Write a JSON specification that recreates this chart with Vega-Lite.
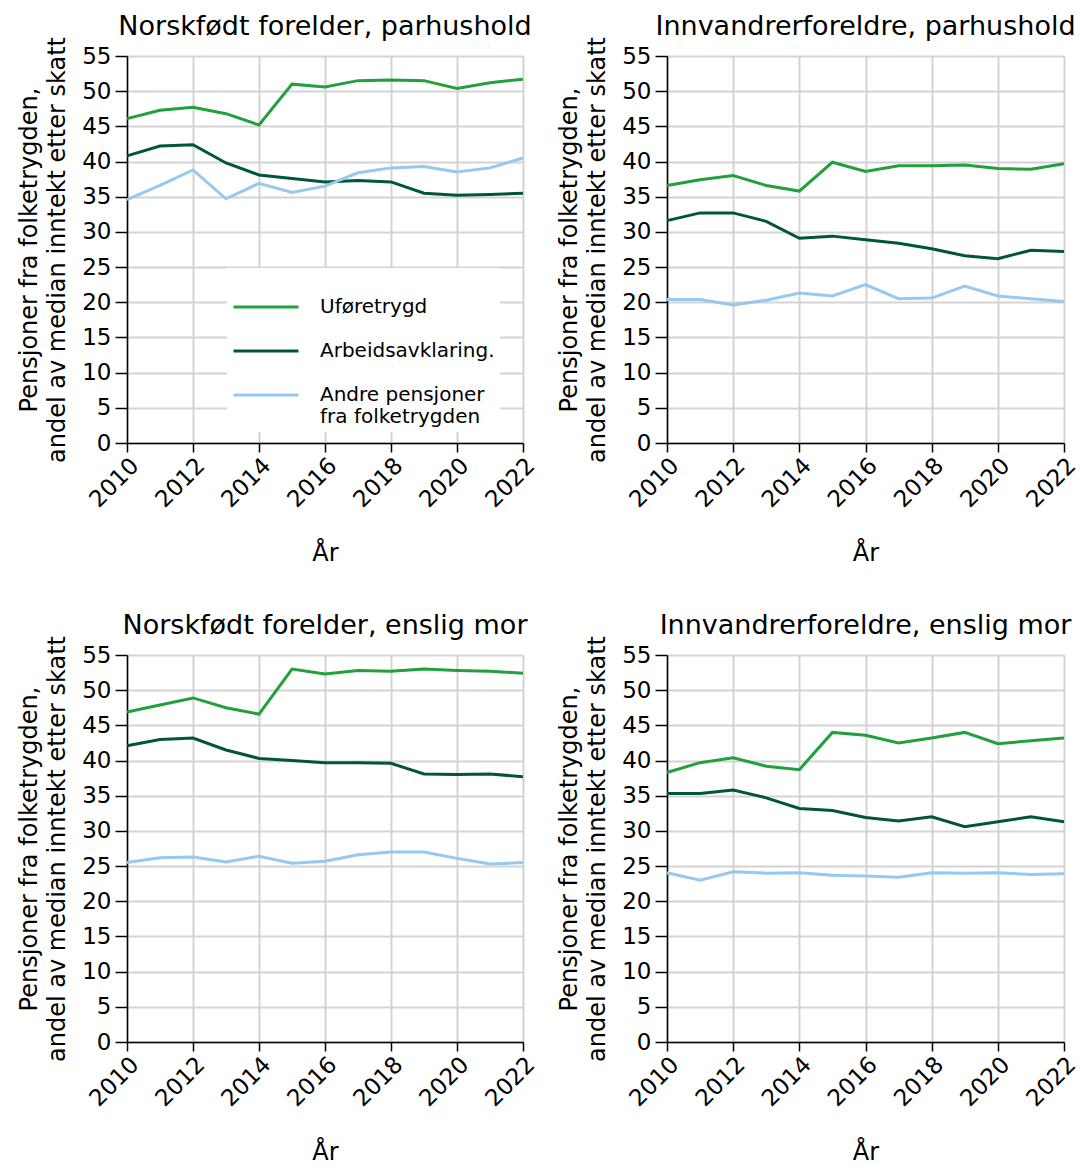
{
  "$schema": "https://vega.github.io/schema/vega-lite/v6.json",
  "padding": {"left": 17, "top": 12, "right": 2, "bottom": 0},
  "config": {
    "font": "DejaVu Sans",
    "view": {"stroke": null},
    "title": {"fontSize": 27, "fontWeight": "normal", "anchor": "middle", "offset": -4, "color": "#000000"},
    "axis": {
      "labelFontSize": 23, "titleFontSize": 24, "titleFontWeight": "normal",
      "labelColor": "#000000", "titleColor": "#000000",
      "domainColor": "#000000", "domainWidth": 1.5, "tickColor": "#000000", "tickWidth": 1.5,
      "gridColor": "#d3d3d3", "gridWidth": 2
    },
    "legend": {"labelFontSize": 20, "labelColor": "#000000"}
  },
  "spacing": {"row": 45, "column": 17},
  "data": {"values": [
    {"panel": "NP", "year": 2010, "type": "Uføretrygd", "value": 46.1},
    {"panel": "NP", "year": 2011, "type": "Uføretrygd", "value": 47.3},
    {"panel": "NP", "year": 2012, "type": "Uføretrygd", "value": 47.7},
    {"panel": "NP", "year": 2013, "type": "Uføretrygd", "value": 46.8},
    {"panel": "NP", "year": 2014, "type": "Uføretrygd", "value": 45.2},
    {"panel": "NP", "year": 2015, "type": "Uføretrygd", "value": 51.0},
    {"panel": "NP", "year": 2016, "type": "Uføretrygd", "value": 50.6},
    {"panel": "NP", "year": 2017, "type": "Uføretrygd", "value": 51.5},
    {"panel": "NP", "year": 2018, "type": "Uføretrygd", "value": 51.6},
    {"panel": "NP", "year": 2019, "type": "Uføretrygd", "value": 51.5},
    {"panel": "NP", "year": 2020, "type": "Uføretrygd", "value": 50.4},
    {"panel": "NP", "year": 2021, "type": "Uføretrygd", "value": 51.2},
    {"panel": "NP", "year": 2022, "type": "Uføretrygd", "value": 51.7},
    {"panel": "NP", "year": 2010, "type": "Arbeidsavklaring.", "value": 40.8},
    {"panel": "NP", "year": 2011, "type": "Arbeidsavklaring.", "value": 42.2},
    {"panel": "NP", "year": 2012, "type": "Arbeidsavklaring.", "value": 42.4},
    {"panel": "NP", "year": 2013, "type": "Arbeidsavklaring.", "value": 39.8},
    {"panel": "NP", "year": 2014, "type": "Arbeidsavklaring.", "value": 38.1},
    {"panel": "NP", "year": 2015, "type": "Arbeidsavklaring.", "value": 37.6},
    {"panel": "NP", "year": 2016, "type": "Arbeidsavklaring.", "value": 37.1},
    {"panel": "NP", "year": 2017, "type": "Arbeidsavklaring.", "value": 37.3},
    {"panel": "NP", "year": 2018, "type": "Arbeidsavklaring.", "value": 37.1},
    {"panel": "NP", "year": 2019, "type": "Arbeidsavklaring.", "value": 35.5},
    {"panel": "NP", "year": 2020, "type": "Arbeidsavklaring.", "value": 35.2},
    {"panel": "NP", "year": 2021, "type": "Arbeidsavklaring.", "value": 35.3},
    {"panel": "NP", "year": 2022, "type": "Arbeidsavklaring.", "value": 35.5},
    {"panel": "NP", "year": 2010, "type": "Andre pensjoner fra folketrygden", "value": 34.6},
    {"panel": "NP", "year": 2011, "type": "Andre pensjoner fra folketrygden", "value": 36.6},
    {"panel": "NP", "year": 2012, "type": "Andre pensjoner fra folketrygden", "value": 38.8},
    {"panel": "NP", "year": 2013, "type": "Andre pensjoner fra folketrygden", "value": 34.7},
    {"panel": "NP", "year": 2014, "type": "Andre pensjoner fra folketrygden", "value": 36.9},
    {"panel": "NP", "year": 2015, "type": "Andre pensjoner fra folketrygden", "value": 35.6},
    {"panel": "NP", "year": 2016, "type": "Andre pensjoner fra folketrygden", "value": 36.5},
    {"panel": "NP", "year": 2017, "type": "Andre pensjoner fra folketrygden", "value": 38.4},
    {"panel": "NP", "year": 2018, "type": "Andre pensjoner fra folketrygden", "value": 39.1},
    {"panel": "NP", "year": 2019, "type": "Andre pensjoner fra folketrygden", "value": 39.3},
    {"panel": "NP", "year": 2020, "type": "Andre pensjoner fra folketrygden", "value": 38.5},
    {"panel": "NP", "year": 2021, "type": "Andre pensjoner fra folketrygden", "value": 39.1},
    {"panel": "NP", "year": 2022, "type": "Andre pensjoner fra folketrygden", "value": 40.5},

    {"panel": "IP", "year": 2010, "type": "Uføretrygd", "value": 36.6},
    {"panel": "IP", "year": 2011, "type": "Uføretrygd", "value": 37.4},
    {"panel": "IP", "year": 2012, "type": "Uføretrygd", "value": 38.0},
    {"panel": "IP", "year": 2013, "type": "Uføretrygd", "value": 36.6},
    {"panel": "IP", "year": 2014, "type": "Uføretrygd", "value": 35.8},
    {"panel": "IP", "year": 2015, "type": "Uføretrygd", "value": 39.9},
    {"panel": "IP", "year": 2016, "type": "Uføretrygd", "value": 38.6},
    {"panel": "IP", "year": 2017, "type": "Uføretrygd", "value": 39.4},
    {"panel": "IP", "year": 2018, "type": "Uføretrygd", "value": 39.4},
    {"panel": "IP", "year": 2019, "type": "Uføretrygd", "value": 39.5},
    {"panel": "IP", "year": 2020, "type": "Uføretrygd", "value": 39.0},
    {"panel": "IP", "year": 2021, "type": "Uføretrygd", "value": 38.9},
    {"panel": "IP", "year": 2022, "type": "Uføretrygd", "value": 39.7},
    {"panel": "IP", "year": 2010, "type": "Arbeidsavklaring.", "value": 31.6},
    {"panel": "IP", "year": 2011, "type": "Arbeidsavklaring.", "value": 32.7},
    {"panel": "IP", "year": 2012, "type": "Arbeidsavklaring.", "value": 32.7},
    {"panel": "IP", "year": 2013, "type": "Arbeidsavklaring.", "value": 31.5},
    {"panel": "IP", "year": 2014, "type": "Arbeidsavklaring.", "value": 29.1},
    {"panel": "IP", "year": 2015, "type": "Arbeidsavklaring.", "value": 29.4},
    {"panel": "IP", "year": 2016, "type": "Arbeidsavklaring.", "value": 28.9},
    {"panel": "IP", "year": 2017, "type": "Arbeidsavklaring.", "value": 28.4},
    {"panel": "IP", "year": 2018, "type": "Arbeidsavklaring.", "value": 27.6},
    {"panel": "IP", "year": 2019, "type": "Arbeidsavklaring.", "value": 26.6},
    {"panel": "IP", "year": 2020, "type": "Arbeidsavklaring.", "value": 26.2},
    {"panel": "IP", "year": 2021, "type": "Arbeidsavklaring.", "value": 27.4},
    {"panel": "IP", "year": 2022, "type": "Arbeidsavklaring.", "value": 27.2},
    {"panel": "IP", "year": 2010, "type": "Andre pensjoner fra folketrygden", "value": 20.4},
    {"panel": "IP", "year": 2011, "type": "Andre pensjoner fra folketrygden", "value": 20.4},
    {"panel": "IP", "year": 2012, "type": "Andre pensjoner fra folketrygden", "value": 19.6},
    {"panel": "IP", "year": 2013, "type": "Andre pensjoner fra folketrygden", "value": 20.3},
    {"panel": "IP", "year": 2014, "type": "Andre pensjoner fra folketrygden", "value": 21.3},
    {"panel": "IP", "year": 2015, "type": "Andre pensjoner fra folketrygden", "value": 20.9},
    {"panel": "IP", "year": 2016, "type": "Andre pensjoner fra folketrygden", "value": 22.5},
    {"panel": "IP", "year": 2017, "type": "Andre pensjoner fra folketrygden", "value": 20.5},
    {"panel": "IP", "year": 2018, "type": "Andre pensjoner fra folketrygden", "value": 20.6},
    {"panel": "IP", "year": 2019, "type": "Andre pensjoner fra folketrygden", "value": 22.3},
    {"panel": "IP", "year": 2020, "type": "Andre pensjoner fra folketrygden", "value": 20.9},
    {"panel": "IP", "year": 2021, "type": "Andre pensjoner fra folketrygden", "value": 20.5},
    {"panel": "IP", "year": 2022, "type": "Andre pensjoner fra folketrygden", "value": 20.1},

    {"panel": "NE", "year": 2010, "type": "Uføretrygd", "value": 46.9},
    {"panel": "NE", "year": 2011, "type": "Uføretrygd", "value": 47.9},
    {"panel": "NE", "year": 2012, "type": "Uføretrygd", "value": 48.9},
    {"panel": "NE", "year": 2013, "type": "Uføretrygd", "value": 47.5},
    {"panel": "NE", "year": 2014, "type": "Uføretrygd", "value": 46.6},
    {"panel": "NE", "year": 2015, "type": "Uføretrygd", "value": 53.0},
    {"panel": "NE", "year": 2016, "type": "Uføretrygd", "value": 52.3},
    {"panel": "NE", "year": 2017, "type": "Uføretrygd", "value": 52.8},
    {"panel": "NE", "year": 2018, "type": "Uføretrygd", "value": 52.7},
    {"panel": "NE", "year": 2019, "type": "Uføretrygd", "value": 53.0},
    {"panel": "NE", "year": 2020, "type": "Uføretrygd", "value": 52.8},
    {"panel": "NE", "year": 2021, "type": "Uføretrygd", "value": 52.7},
    {"panel": "NE", "year": 2022, "type": "Uføretrygd", "value": 52.4},
    {"panel": "NE", "year": 2010, "type": "Arbeidsavklaring.", "value": 42.1},
    {"panel": "NE", "year": 2011, "type": "Arbeidsavklaring.", "value": 43.0},
    {"panel": "NE", "year": 2012, "type": "Arbeidsavklaring.", "value": 43.2},
    {"panel": "NE", "year": 2013, "type": "Arbeidsavklaring.", "value": 41.5},
    {"panel": "NE", "year": 2014, "type": "Arbeidsavklaring.", "value": 40.3},
    {"panel": "NE", "year": 2015, "type": "Arbeidsavklaring.", "value": 40.0},
    {"panel": "NE", "year": 2016, "type": "Arbeidsavklaring.", "value": 39.7},
    {"panel": "NE", "year": 2017, "type": "Arbeidsavklaring.", "value": 39.7},
    {"panel": "NE", "year": 2018, "type": "Arbeidsavklaring.", "value": 39.6},
    {"panel": "NE", "year": 2019, "type": "Arbeidsavklaring.", "value": 38.1},
    {"panel": "NE", "year": 2020, "type": "Arbeidsavklaring.", "value": 38.0},
    {"panel": "NE", "year": 2021, "type": "Arbeidsavklaring.", "value": 38.1},
    {"panel": "NE", "year": 2022, "type": "Arbeidsavklaring.", "value": 37.7},
    {"panel": "NE", "year": 2010, "type": "Andre pensjoner fra folketrygden", "value": 25.5},
    {"panel": "NE", "year": 2011, "type": "Andre pensjoner fra folketrygden", "value": 26.2},
    {"panel": "NE", "year": 2012, "type": "Andre pensjoner fra folketrygden", "value": 26.3},
    {"panel": "NE", "year": 2013, "type": "Andre pensjoner fra folketrygden", "value": 25.6},
    {"panel": "NE", "year": 2014, "type": "Andre pensjoner fra folketrygden", "value": 26.4},
    {"panel": "NE", "year": 2015, "type": "Andre pensjoner fra folketrygden", "value": 25.4},
    {"panel": "NE", "year": 2016, "type": "Andre pensjoner fra folketrygden", "value": 25.7},
    {"panel": "NE", "year": 2017, "type": "Andre pensjoner fra folketrygden", "value": 26.6},
    {"panel": "NE", "year": 2018, "type": "Andre pensjoner fra folketrygden", "value": 27.0},
    {"panel": "NE", "year": 2019, "type": "Andre pensjoner fra folketrygden", "value": 27.0},
    {"panel": "NE", "year": 2020, "type": "Andre pensjoner fra folketrygden", "value": 26.1},
    {"panel": "NE", "year": 2021, "type": "Andre pensjoner fra folketrygden", "value": 25.3},
    {"panel": "NE", "year": 2022, "type": "Andre pensjoner fra folketrygden", "value": 25.5},

    {"panel": "IE", "year": 2010, "type": "Uføretrygd", "value": 38.3},
    {"panel": "IE", "year": 2011, "type": "Uføretrygd", "value": 39.7},
    {"panel": "IE", "year": 2012, "type": "Uføretrygd", "value": 40.4},
    {"panel": "IE", "year": 2013, "type": "Uføretrygd", "value": 39.2},
    {"panel": "IE", "year": 2014, "type": "Uføretrygd", "value": 38.7},
    {"panel": "IE", "year": 2015, "type": "Uføretrygd", "value": 44.0},
    {"panel": "IE", "year": 2016, "type": "Uføretrygd", "value": 43.6},
    {"panel": "IE", "year": 2017, "type": "Uføretrygd", "value": 42.5},
    {"panel": "IE", "year": 2018, "type": "Uføretrygd", "value": 43.2},
    {"panel": "IE", "year": 2019, "type": "Uføretrygd", "value": 44.0},
    {"panel": "IE", "year": 2020, "type": "Uføretrygd", "value": 42.4},
    {"panel": "IE", "year": 2021, "type": "Uføretrygd", "value": 42.8},
    {"panel": "IE", "year": 2022, "type": "Uføretrygd", "value": 43.2},
    {"panel": "IE", "year": 2010, "type": "Arbeidsavklaring.", "value": 35.3},
    {"panel": "IE", "year": 2011, "type": "Arbeidsavklaring.", "value": 35.3},
    {"panel": "IE", "year": 2012, "type": "Arbeidsavklaring.", "value": 35.8},
    {"panel": "IE", "year": 2013, "type": "Arbeidsavklaring.", "value": 34.7},
    {"panel": "IE", "year": 2014, "type": "Arbeidsavklaring.", "value": 33.2},
    {"panel": "IE", "year": 2015, "type": "Arbeidsavklaring.", "value": 32.9},
    {"panel": "IE", "year": 2016, "type": "Arbeidsavklaring.", "value": 31.9},
    {"panel": "IE", "year": 2017, "type": "Arbeidsavklaring.", "value": 31.4},
    {"panel": "IE", "year": 2018, "type": "Arbeidsavklaring.", "value": 32.0},
    {"panel": "IE", "year": 2019, "type": "Arbeidsavklaring.", "value": 30.6},
    {"panel": "IE", "year": 2020, "type": "Arbeidsavklaring.", "value": 31.3},
    {"panel": "IE", "year": 2021, "type": "Arbeidsavklaring.", "value": 32.0},
    {"panel": "IE", "year": 2022, "type": "Arbeidsavklaring.", "value": 31.3},
    {"panel": "IE", "year": 2010, "type": "Andre pensjoner fra folketrygden", "value": 24.05},
    {"panel": "IE", "year": 2011, "type": "Andre pensjoner fra folketrygden", "value": 23.0},
    {"panel": "IE", "year": 2012, "type": "Andre pensjoner fra folketrygden", "value": 24.2},
    {"panel": "IE", "year": 2013, "type": "Andre pensjoner fra folketrygden", "value": 24.0},
    {"panel": "IE", "year": 2014, "type": "Andre pensjoner fra folketrygden", "value": 24.05},
    {"panel": "IE", "year": 2015, "type": "Andre pensjoner fra folketrygden", "value": 23.7},
    {"panel": "IE", "year": 2016, "type": "Andre pensjoner fra folketrygden", "value": 23.6},
    {"panel": "IE", "year": 2017, "type": "Andre pensjoner fra folketrygden", "value": 23.4},
    {"panel": "IE", "year": 2018, "type": "Andre pensjoner fra folketrygden", "value": 24.05},
    {"panel": "IE", "year": 2019, "type": "Andre pensjoner fra folketrygden", "value": 24.0},
    {"panel": "IE", "year": 2020, "type": "Andre pensjoner fra folketrygden", "value": 24.05},
    {"panel": "IE", "year": 2021, "type": "Andre pensjoner fra folketrygden", "value": 23.8},
    {"panel": "IE", "year": 2022, "type": "Andre pensjoner fra folketrygden", "value": 23.9}
  ]},
  "resolve": {"legend": {"color": "independent"}},
  "columns": 2,
  "concat": [
    {
      "title": "Norskfødt forelder, parhushold",
      "width": 396, "height": 387,
      "transform": [{"filter": "datum.panel == 'NP'"}],
      "mark": {"type": "line", "strokeWidth": 3},
      "encoding": {
        "x": {"field": "year", "type": "quantitative", "scale": {"domain": [2010, 2022], "nice": false, "zero": false},
              "axis": {"values": [2010, 2012, 2014, 2016, 2018, 2020, 2022], "format": "d", "labelAngle": -45, "tickSize": 9, "title": "År", "titlePadding": 30}},
        "y": {"field": "value", "type": "quantitative", "scale": {"domain": [0, 55], "nice": false},
              "axis": {"values": [0, 5, 10, 15, 20, 25, 30, 35, 40, 45, 50, 55], "tickSize": 12, "labelPadding": 4, "title": ["Pensjoner fra folketrygden,", "andel av median inntekt etter skatt"], "titleLineHeight": 28, "titlePadding": 12}},
        "color": {"field": "type", "type": "nominal",
          "scale": {"domain": ["Uføretrygd", "Arbeidsavklaring.", "Andre pensjoner fra folketrygden"], "range": ["#22a03c", "#00553c", "#96c8f0"]},
          "legend": {"title": null, "orient": "none", "legendX": 100, "legendY": 212, "fillColor": "#ffffff", "padding": 5,
                     "symbolType": "stroke", "symbolSize": 4225, "symbolStrokeWidth": 3, "labelOffset": 20, "rowPadding": 0, "labelLimit": 300,
                     "labelExpr": "datum.label == 'Andre pensjoner fra folketrygden' ? ['Andre pensjoner', 'fra folketrygden'] : datum.label"}}
      }
    },
    {
      "title": "Innvandrerforeldre, parhushold",
      "width": 397, "height": 387,
      "transform": [{"filter": "datum.panel == 'IP'"}],
      "mark": {"type": "line", "strokeWidth": 3},
      "encoding": {
        "x": {"field": "year", "type": "quantitative", "scale": {"domain": [2010, 2022], "nice": false, "zero": false},
              "axis": {"values": [2010, 2012, 2014, 2016, 2018, 2020, 2022], "format": "d", "labelAngle": -45, "tickSize": 9, "title": "År", "titlePadding": 30}},
        "y": {"field": "value", "type": "quantitative", "scale": {"domain": [0, 55], "nice": false},
              "axis": {"values": [0, 5, 10, 15, 20, 25, 30, 35, 40, 45, 50, 55], "tickSize": 12, "labelPadding": 4, "title": ["Pensjoner fra folketrygden,", "andel av median inntekt etter skatt"], "titleLineHeight": 28, "titlePadding": 12}},
        "color": {"field": "type", "type": "nominal",
          "scale": {"domain": ["Uføretrygd", "Arbeidsavklaring.", "Andre pensjoner fra folketrygden"], "range": ["#22a03c", "#00553c", "#96c8f0"]},
          "legend": null}
      }
    },
    {
      "title": "Norskfødt forelder, enslig mor",
      "width": 396, "height": 387,
      "transform": [{"filter": "datum.panel == 'NE'"}],
      "mark": {"type": "line", "strokeWidth": 3},
      "encoding": {
        "x": {"field": "year", "type": "quantitative", "scale": {"domain": [2010, 2022], "nice": false, "zero": false},
              "axis": {"values": [2010, 2012, 2014, 2016, 2018, 2020, 2022], "format": "d", "labelAngle": -45, "tickSize": 9, "title": "År", "titlePadding": 30}},
        "y": {"field": "value", "type": "quantitative", "scale": {"domain": [0, 55], "nice": false},
              "axis": {"values": [0, 5, 10, 15, 20, 25, 30, 35, 40, 45, 50, 55], "tickSize": 12, "labelPadding": 4, "title": ["Pensjoner fra folketrygden,", "andel av median inntekt etter skatt"], "titleLineHeight": 28, "titlePadding": 12}},
        "color": {"field": "type", "type": "nominal",
          "scale": {"domain": ["Uføretrygd", "Arbeidsavklaring.", "Andre pensjoner fra folketrygden"], "range": ["#22a03c", "#00553c", "#96c8f0"]},
          "legend": null}
      }
    },
    {
      "title": "Innvandrerforeldre, enslig mor",
      "width": 397, "height": 387,
      "transform": [{"filter": "datum.panel == 'IE'"}],
      "mark": {"type": "line", "strokeWidth": 3},
      "encoding": {
        "x": {"field": "year", "type": "quantitative", "scale": {"domain": [2010, 2022], "nice": false, "zero": false},
              "axis": {"values": [2010, 2012, 2014, 2016, 2018, 2020, 2022], "format": "d", "labelAngle": -45, "tickSize": 9, "title": "År", "titlePadding": 30}},
        "y": {"field": "value", "type": "quantitative", "scale": {"domain": [0, 55], "nice": false},
              "axis": {"values": [0, 5, 10, 15, 20, 25, 30, 35, 40, 45, 50, 55], "tickSize": 12, "labelPadding": 4, "title": ["Pensjoner fra folketrygden,", "andel av median inntekt etter skatt"], "titleLineHeight": 28, "titlePadding": 12}},
        "color": {"field": "type", "type": "nominal",
          "scale": {"domain": ["Uføretrygd", "Arbeidsavklaring.", "Andre pensjoner fra folketrygden"], "range": ["#22a03c", "#00553c", "#96c8f0"]},
          "legend": null}
      }
    }
  ]
}
